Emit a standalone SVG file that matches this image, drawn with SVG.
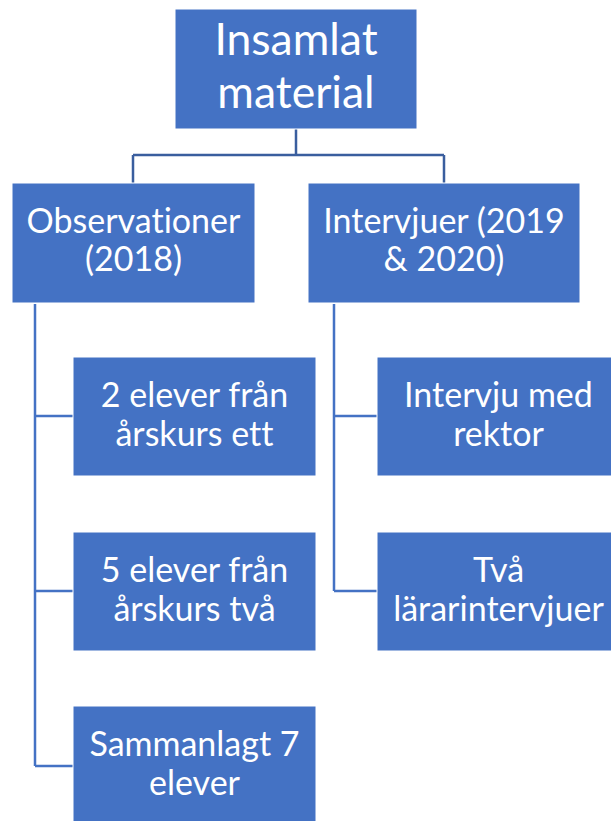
<svg xmlns="http://www.w3.org/2000/svg" width="611" height="821" viewBox="0 0 611 821">
<style>
.box{fill:#4472C4;stroke:#ffffff;stroke-width:1}
.t{fill:#ffffff;font-family:Lato,"Open Sans","Liberation Sans",sans-serif;text-anchor:middle;font-variant-ligatures:none;font-feature-settings:"liga" 0}
.t1{font-size:44.5px}
.t2{font-size:34px}
.c1{fill:none;stroke:#3A5E9E;stroke-width:2.5}
.c2{fill:none;stroke:#4472C4;stroke-width:2.5}
</style>
<rect width="611" height="821" fill="#ffffff"/>
<g id="connectors">
<path class="c1" d="M296 129V155M133 155H444M133 155V183M444 155V183"/>
<path class="c2" d="M35 304V766M35 416H73M35 591H73M35 766H73"/>
<path class="c2" d="M334 304V591M334 416H377M334 591H377"/>
</g>
<g id="root">
<rect class="box" x="175" y="9" width="242" height="120"/>
<text class="t t1" x="296" y="55">Insamlat</text>
<text class="t t1" x="296" y="108">material</text>
</g>
<g id="observationer">
<rect class="box" x="12" y="183" width="243" height="120"/>
<text class="t t2" x="133.5" y="233">Observationer</text>
<text class="t t2" x="133.5" y="271">(2018)</text>
</g>
<g id="intervjuer">
<rect class="box" x="308" y="183" width="272" height="120"/>
<text class="t t2" x="444" y="233">Intervjuer (2019</text>
<text class="t t2" x="444" y="271">&amp; 2020)</text>
</g>
<g id="obs1">
<rect class="box" x="73" y="357" width="243" height="119"/>
<text class="t t2" x="194.5" y="407">2 elever från</text>
<text class="t t2" x="194.5" y="446">årskurs ett</text>
</g>
<g id="obs2">
<rect class="box" x="73" y="532" width="243" height="119"/>
<text class="t t2" x="194.5" y="582">5 elever från</text>
<text class="t t2" x="194.5" y="621">årskurs två</text>
</g>
<g id="obs3">
<rect class="box" x="73" y="706" width="243" height="119"/>
<text class="t t2" x="194.5" y="756">Sammanlagt 7</text>
<text class="t t2" x="194.5" y="795">elever</text>
</g>
<g id="int1">
<rect class="box" x="377" y="357" width="243" height="119"/>
<text class="t t2" x="498.5" y="407">Intervju med</text>
<text class="t t2" x="498.5" y="446">rektor</text>
</g>
<g id="int2">
<rect class="box" x="377" y="532" width="243" height="119"/>
<text class="t t2" x="498.5" y="582">Två</text>
<text class="t t2" x="498.5" y="621">lärarintervjuer</text>
</g>
</svg>
